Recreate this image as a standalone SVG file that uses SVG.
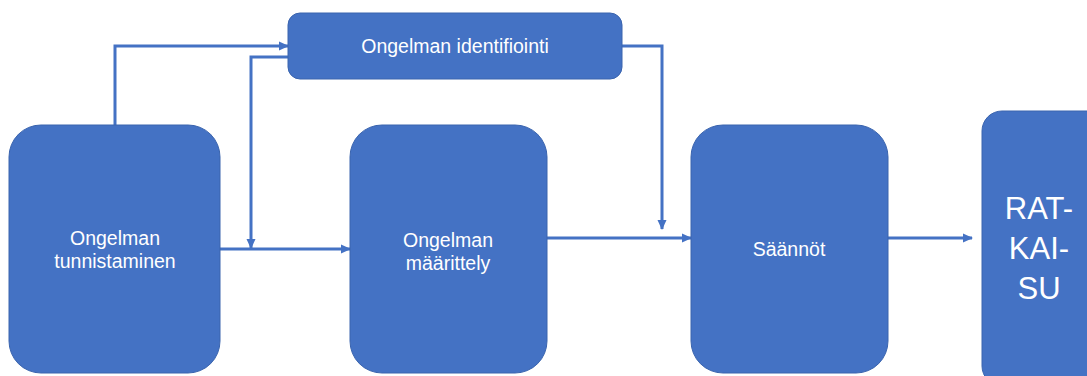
<svg xmlns="http://www.w3.org/2000/svg" width="1087" height="376" viewBox="0 0 1087 376">
<style>
.box{fill:#4472C4;stroke:#3A64AE;stroke-width:1}
.lbl{fill:#ffffff;font-family:"Liberation Sans",Arial,sans-serif;font-size:19.5px;text-anchor:middle}
.big{font-size:31px}
.con{fill:none;stroke:#4472C4;stroke-width:3}
</style>
<defs>
<marker id="ah" markerWidth="10" markerHeight="10" refX="9" refY="5" orient="auto" markerUnits="userSpaceOnUse" viewBox="0 0 10 10">
<path d="M0,0.5 L10,5 L0,9.5 Z" fill="#4472C4"/>
</marker>
</defs>
<g id="connectors">
<path class="con" d="M115,125 V46 H288" marker-end="url(#ah)"/>
<path class="con" d="M288,57 H251 V248" marker-end="url(#ah)"/>
<path class="con" d="M220,249 H350" marker-end="url(#ah)"/>
<path class="con" d="M622,46 H662 V229" marker-end="url(#ah)"/>
<path class="con" d="M547,238 H691" marker-end="url(#ah)"/>
<path class="con" d="M888,238 H972" marker-end="url(#ah)"/>
</g>
<g id="n-identifiointi">
<rect class="box" x="288" y="13" width="334" height="66" rx="12"/>
<text class="lbl" x="455" y="53">Ongelman identifiointi</text>
</g>
<g id="n-tunnistaminen">
<rect class="box" x="9" y="125" width="211" height="248" rx="32"/>
<text class="lbl" x="115" y="245"><tspan x="115">Ongelman</tspan><tspan x="115" dy="23">tunnistaminen</tspan></text>
</g>
<g id="n-maarittely">
<rect class="box" x="350" y="125" width="197" height="248" rx="32"/>
<text class="lbl" x="448" y="247"><tspan x="448">Ongelman</tspan><tspan x="448" dy="23">määrittely</tspan></text>
</g>
<g id="n-saannot">
<rect class="box" x="691" y="125" width="197" height="248" rx="32"/>
<text class="lbl" x="789" y="256">Säännöt</text>
</g>
<g id="n-ratkaisu">
<rect class="box" x="982" y="111" width="130" height="275" rx="20"/>
<text class="lbl big" x="1039" y="219"><tspan x="1039">RAT-</tspan><tspan x="1039" dy="40">KAI-</tspan><tspan x="1039" dy="40">SU</tspan></text>
</g>
</svg>
